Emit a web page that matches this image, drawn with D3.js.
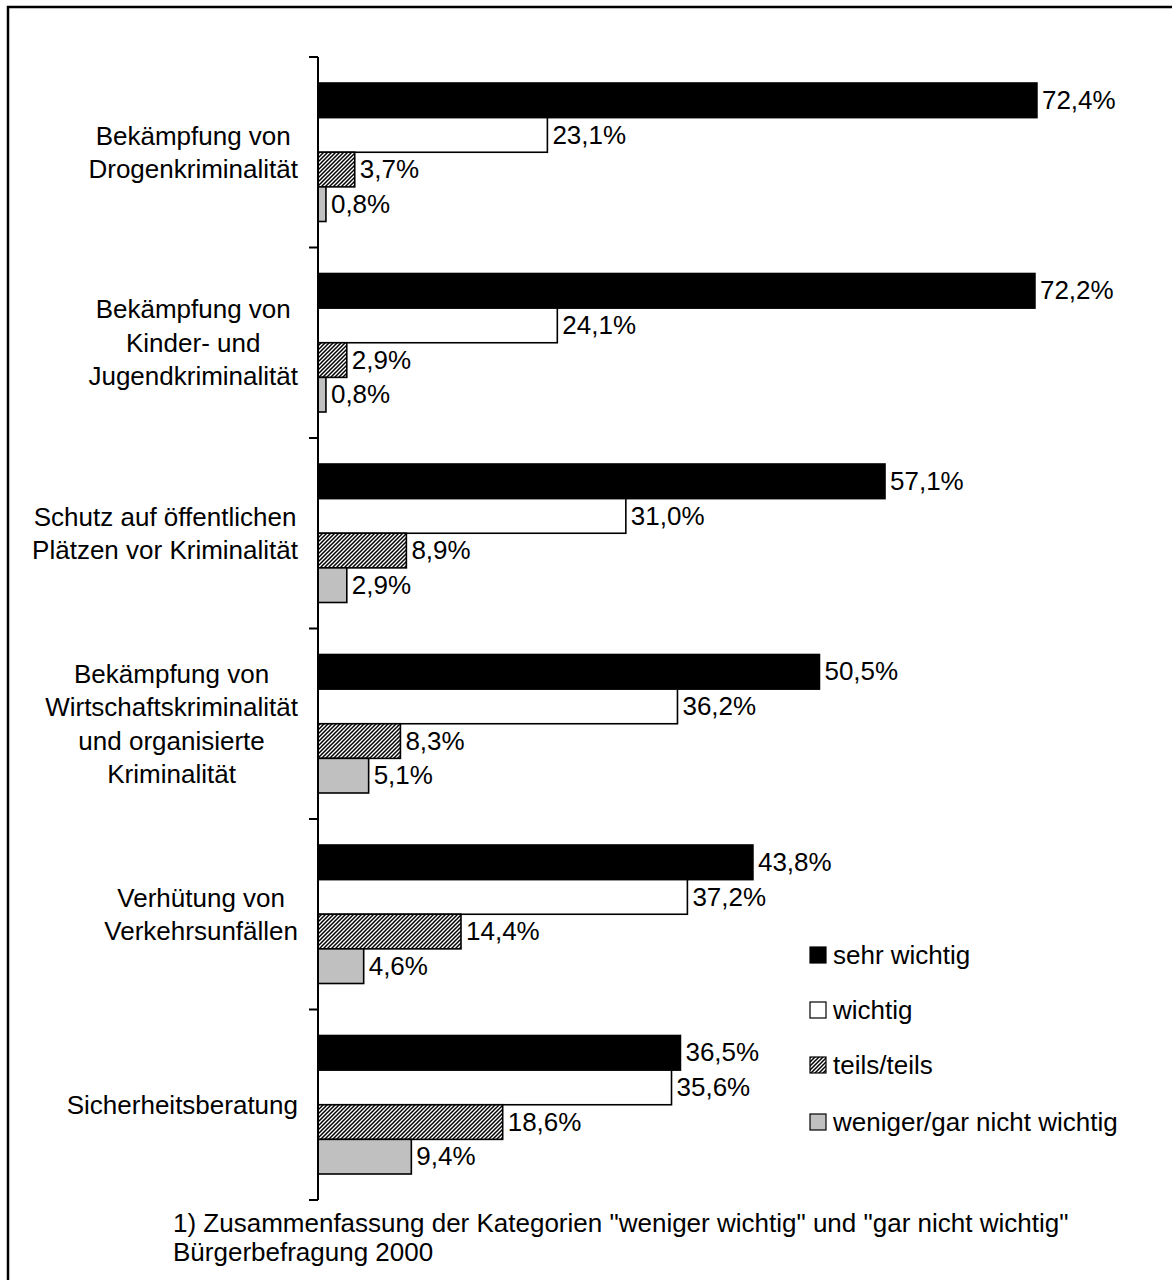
<!DOCTYPE html>
<html><head><meta charset="utf-8">
<script src="https://cdn.jsdelivr.net/npm/d3@7"></script>
<style>body{margin:0;background:#fff}svg{display:block}text{font-family:"Liberation Sans",Arial,sans-serif;fill:#000}</style>
</head><body>
<svg id="chart" width="1172" height="1280"></svg>
<script>
const categories = [
  ["Bekämpfung von", "Drogenkriminalität"],
  ["Bekämpfung von", "Kinder- und", "Jugendkriminalität"],
  ["Schutz auf öffentlichen", "Plätzen vor Kriminalität"],
  ["Bekämpfung von", "Wirtschaftskriminalität", "und organisierte", "Kriminalität"],
  ["Verhütung von", "Verkehrsunfällen"],
  ["Sicherheitsberatung"]
];
const seriesNames = ["sehr wichtig", "wichtig", "teils/teils", "weniger/gar nicht wichtig"];
const sehrWichtig = [72.4, 72.2, 57.1, 50.5, 43.8, 36.5];
const wichtig = [23.1, 24.1, 31.0, 36.2, 37.2, 35.6];
const teilsTeils = [3.7, 2.9, 8.9, 8.3, 14.4, 18.6];
const wenigerGarNicht = [0.8, 0.8, 2.9, 5.1, 4.6, 9.4];
const footnotes = ['1) Zusammenfassung der Kategorien "weniger wichtig" und "gar nicht wichtig"', 'Bürgerbefragung 2000'];

const seriesValues = [sehrWichtig, wichtig, teilsTeils, wenigerGarNicht];
const fills = ["#000", "#fff", "url(#hatch)", "#c0c0c0"];
const fmt = v => d3.format(".1f")(v).replace(".", ",") + "%";

const svg = d3.select("#chart");
const defs = svg.append("defs");
const pat = defs.append("pattern").attr("id", "hatch").attr("patternUnits", "userSpaceOnUse")
  .attr("width", 4).attr("height", 4);
pat.append("rect").attr("width", 4).attr("height", 4).attr("fill", "#fff");
pat.append("path").attr("d", "M0,4 L4,0 M-1,1 L1,-1 M3,5 L5,3")
  .attr("stroke", "#000").attr("stroke-width", 1.5);

// outer frame
svg.append("rect").attr("x", 8).attr("y", 7).attr("width", 1200).attr("height", 1300)
  .attr("fill", "none").attr("stroke", "#000").attr("stroke-width", 2.5);

const catIdx = categories.map((c, i) => i);
const x = d3.scaleLinear().domain([0, 100]).range([318, 1311]);
const y = d3.scaleBand().domain(catIdx).range([57, 1200]).padding(0);
const yInner = d3.scaleBand().domain(d3.range(seriesNames.length))
  .range([26, y.bandwidth() - 26]).padding(0);

// bars
const g = svg.append("g");
catIdx.forEach(ci => {
  seriesValues.forEach((vals, si) => {
    const v = vals[ci];
    const y0 = y(ci) + yInner(si);
    g.append("rect").attr("x", x(0)).attr("y", y0)
      .attr("width", x(v) - x(0)).attr("height", yInner.bandwidth())
      .attr("fill", fills[si]).attr("stroke", "#000").attr("stroke-width", 1.6);
    g.append("text").attr("x", x(v) + 5).attr("y", y0 + yInner.bandwidth() / 2)
      .attr("dy", "0.33em").attr("font-size", 26).text(fmt(v));
  });
});

// axis
const ax = svg.append("g").attr("transform", `translate(${x(0)},0)`);
ax.append("line").attr("x1", 0).attr("x2", 0).attr("y1", 57).attr("y2", 1200)
  .attr("stroke", "#000").attr("stroke-width", 2);
const tickYs = catIdx.map(i => y(i)).concat([y(catIdx[catIdx.length - 1]) + y.bandwidth()]);
ax.selectAll(".tk").data(tickYs).join("line").attr("x1", -9).attr("x2", 0)
  .attr("y1", d => d).attr("y2", d => d).attr("stroke", "#000").attr("stroke-width", 2);

// category labels
const lineH = 33.5;
catIdx.forEach(ci => {
  const lines = categories[ci];
  const t = svg.append("text").attr("font-size", 26).attr("text-anchor", "middle");
  const cy = y(ci) + y.bandwidth() / 2;
  const ts = lines.map((l, li) => t.append("tspan").attr("y", cy + (li - (lines.length - 1) / 2) * lineH)
    .attr("dy", "0.35em").text(l));
  const maxW = d3.max(ts, s => s.node().getComputedTextLength());
  ts.forEach(s => s.attr("x", 298 - maxW / 2));
});

// legend
const legY = [955, 1010, 1065, 1122];
seriesNames.forEach((n, i) => {
  svg.append("rect").attr("x", 810).attr("y", legY[i] - 8).attr("width", 16).attr("height", 16)
    .attr("fill", fills[i]).attr("stroke", "#000").attr("stroke-width", 1.2);
  svg.append("text").attr("x", 833).attr("y", legY[i]).attr("dy", "0.35em").attr("font-size", 26).text(n);
});

// footnotes
footnotes.forEach((f, i) => {
  svg.append("text").attr("x", 173).attr("y", 1223 + i * 29).attr("dy", "0.35em")
    .attr("font-size", 26).text(f);
});
</script>
</body></html>
